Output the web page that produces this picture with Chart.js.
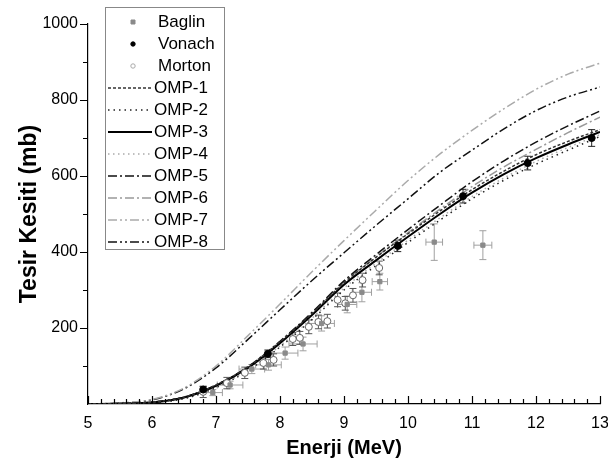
<!DOCTYPE html>
<html>
<head>
<meta charset="utf-8">
<script src="https://cdn.jsdelivr.net/npm/chart.js@4.4.1/dist/chart.umd.min.js"></script>
<style>
  body { margin: 0; background: #fff; }
  #wrap { width: 608px; height: 468px; }
</style>
</head>
<body>
<div id="wrap"><canvas id="grafik"></canvas></div>
<script>
// model grid (MeV) and OMP curves (mb)
var enerji = [5, 5.5, 6, 6.5, 7, 7.5, 8, 8.5, 9, 9.5, 10, 10.5, 11, 11.5, 12, 12.5, 13];
var omp1 = [0, 1, 5, 18, 50, 98, 164, 238, 319, 386, 448, 508, 564, 613, 656, 691, 722];
var omp2 = [0, 1, 3, 14, 43, 88, 150, 222, 300, 364, 425, 484, 540, 589, 631, 668, 704];
var omp3 = [0, 1, 4, 17, 48, 95, 160, 234, 314, 378, 440, 500, 556, 605, 647, 683, 716];
var omp4 = [0, 1, 4, 15, 45, 90, 153, 226, 305, 370, 431, 490, 546, 595, 638, 675, 709];
var omp5 = [0, 1, 5, 18, 50, 98, 165, 241, 324, 393, 459, 523, 585, 640, 689, 732, 771];
var omp6 = [0, 1, 5, 18, 49, 97, 163, 238, 320, 387, 451, 513, 572, 624, 670, 714, 755];
var omp7 = [0, 3, 12, 42, 100, 180, 263, 348, 430, 510, 588, 658, 720, 777, 828, 868, 897];
var omp8 = [0, 2, 11, 40, 95, 170, 248, 325, 398, 470, 540, 610, 668, 724, 772, 808, 834];

// deneysel veriler
var baglinE = [6.95, 7.22, 7.56, 7.82, 8.08, 8.36, 8.65, 9.05, 9.28, 9.56, 10.41, 11.17];
var baglinY = [30, 50, 92, 103, 134, 158, 212, 262, 294, 322, 426, 418];
var baglinEx = [0.15, 0.2, 0.2, 0.2, 0.2, 0.22, 0.2, 0.15, 0.15, 0.12, 0.13, 0.14];
var baglinEy = [8, 10, 12, 14, 16, 18, 20, 22, 25, 22, 48, 38];

var vonachE = [6.8, 7.81, 9.84, 10.86, 11.87, 12.87];
var vonachY = [38, 132, 416, 547, 634, 700];
var vonachEy = [8, 10, 15, 18, 18, 22];

var mortonE = [6.8, 7.17, 7.45, 7.74, 7.9, 8.2, 8.31, 8.45, 8.6, 8.74, 8.9, 9.02, 9.14, 9.29, 9.55];
var mortonY = [32, 55, 82, 108, 116, 171, 174, 203, 216, 218, 274, 265, 286, 326, 358];
var mortonEy = [15, 15, 15, 16, 16, 17, 17, 18, 18, 18, 18, 18, 18, 18, 18];

var xTicks = [5, 6, 7, 8, 9, 10, 11, 12, 13];
var yTicks = [200, 400, 600, 800, 1000];

Chart.defaults.font.family = '"Liberation Sans", Arial, sans-serif';

function noktalar(xs, ys) {
  return xs.map(function (x, i) { return { x: x, y: ys[i] }; });
}

function egri(label, ys, color, dash, w) {
  return {
    label: label, data: noktalar(enerji, ys), showLine: true, borderColor: color,
    borderDash: dash, borderWidth: w || 1.5, pointRadius: 0, fill: false,
    cubicInterpolationMode: 'monotone'
  };
}

var datasets = [
  { label: 'Baglin', data: noktalar(baglinE, baglinY), pointStyle: 'rect', pointRadius: 3,
    backgroundColor: '#8a8a8a', borderColor: '#8a8a8a', showLine: false,
    hataX: baglinEx, hataY: baglinEy, hataRenk: '#a0a0a0' },
  { label: 'Vonach', data: noktalar(vonachE, vonachY), pointStyle: 'circle', pointRadius: 3.5,
    backgroundColor: '#000', borderColor: '#000', showLine: false,
    hataY: vonachEy, hataRenk: '#222' },
  { label: 'Morton', data: noktalar(mortonE, mortonY), pointStyle: 'circle', pointRadius: 3.5,
    backgroundColor: '#fff', borderColor: '#666', borderWidth: 1, showLine: false,
    hataY: mortonEy, hataRenk: '#555' },
  egri('OMP-1', omp1, '#333', [3, 2]),
  egri('OMP-2', omp2, '#222', [1.5, 4]),
  egri('OMP-3', omp3, '#000', [], 2),
  egri('OMP-4', omp4, '#aaa', [1.5, 3.5]),
  egri('OMP-5', omp5, '#111', [9, 3, 2, 3]),
  egri('OMP-6', omp6, '#999', [9, 3, 2, 3]),
  egri('OMP-7', omp7, '#aaa', [9, 3, 2, 3, 2, 3]),
  egri('OMP-8', omp8, '#111', [9, 3, 2, 3, 2, 3])
];

// hata cubuklari
var hataPlugin = {
  id: 'hata',
  beforeDatasetsDraw: function (chart) {
    var ctx = chart.ctx, sx = chart.scales.x, sy = chart.scales.y;
    ctx.save();
    chart.data.datasets.forEach(function (ds) {
      if (!ds.hataY) return;
      ctx.strokeStyle = ds.hataRenk;
      ctx.lineWidth = 1;
      ds.data.forEach(function (p, i) {
        var px = sx.getPixelForValue(p.x), py = sy.getPixelForValue(p.y);
        var y1 = sy.getPixelForValue(p.y - ds.hataY[i]), y2 = sy.getPixelForValue(p.y + ds.hataY[i]);
        ctx.beginPath();
        ctx.moveTo(px, y1); ctx.lineTo(px, y2);
        ctx.moveTo(px - 3.5, y1); ctx.lineTo(px + 3.5, y1);
        ctx.moveTo(px - 3.5, y2); ctx.lineTo(px + 3.5, y2);
        if (ds.hataX) {
          var x1 = sx.getPixelForValue(p.x - ds.hataX[i]), x2 = sx.getPixelForValue(p.x + ds.hataX[i]);
          ctx.moveTo(x1, py); ctx.lineTo(x2, py);
          ctx.moveTo(x1, py - 3.5); ctx.lineTo(x1, py + 3.5);
          ctx.moveTo(x2, py - 3.5); ctx.lineTo(x2, py + 3.5);
        }
        ctx.stroke();
      });
    });
    ctx.restore();
  }
};

// eksen cizgileri (ana ve ara) + lejant
var eksenPlugin = {
  id: 'eksen',
  afterDraw: function (chart) {
    var ctx = chart.ctx, sx = chart.scales.x, sy = chart.scales.y, a = chart.chartArea;
    ctx.save();
    ctx.strokeStyle = '#000';
    ctx.lineWidth = 1.2;
    ctx.beginPath();
    for (var v = 5; v <= 13.001; v += 0.2) {
      var px = Math.round(sx.getPixelForValue(v)) + 0.5;
      var major = Math.abs(v - Math.round(v)) < 0.01;
      ctx.moveTo(px, a.bottom); ctx.lineTo(px, a.bottom - (major ? 8 : 5));
    }
    for (var w = 100; w <= 1000; w += 100) {
      var py = Math.round(sy.getPixelForValue(w)) + 0.5;
      ctx.moveTo(a.left, py); ctx.lineTo(a.left - (w % 200 === 0 ? 8 : 5), py);
    }
    ctx.stroke();

    var bx = 105, by = 7, bw = 119, bh = 242, step = 22;
    ctx.strokeStyle = '#888';
    ctx.lineWidth = 1;
    ctx.fillStyle = '#fff';
    ctx.fillRect(bx, by, bw, bh);
    ctx.strokeRect(bx + 0.5, by + 0.5, bw, bh);
    ctx.font = '17px "Liberation Sans", Arial, sans-serif';
    ctx.textBaseline = 'middle';
    chart.data.datasets.forEach(function (ds, i) {
      var y = by + 15 + i * step;
      if (ds.showLine) {
        ctx.strokeStyle = ds.borderColor;
        ctx.lineWidth = ds.borderWidth;
        ctx.setLineDash(ds.borderDash);
        ctx.beginPath(); ctx.moveTo(bx + 3, y); ctx.lineTo(bx + 47, y); ctx.stroke();
        ctx.setLineDash([]);
        ctx.fillStyle = '#000';
        ctx.fillText(ds.label, bx + 49, y);
      } else {
        ctx.fillStyle = ds.label === 'Morton' ? '#fff' : ds.backgroundColor;
        ctx.strokeStyle = ds.label === 'Morton' ? '#aaa' : ds.borderColor;
        ctx.lineWidth = 1;
        ctx.beginPath();
        if (ds.pointStyle === 'rect') ctx.rect(bx + 26, y - 2, 4, 4);
        else ctx.arc(bx + 28, y, 2.2, 0, Math.PI * 2);
        ctx.fill(); ctx.stroke();
        ctx.fillStyle = '#000';
        ctx.fillText(ds.label, bx + 53, y);
      }
    });
    ctx.restore();
  }
};

var ctx = document.getElementById('grafik');
var grafik = new Chart(ctx, {
  type: 'scatter',
  data: { datasets: datasets },
  options: {
    responsive: true,
    maintainAspectRatio: false,
    animation: false,
    layout: { padding: { top: 24, right: 8, left: 0, bottom: 0 } },
    plugins: { legend: { display: false }, tooltip: { enabled: false } },
    scales: {
      x: {
        type: 'linear', min: 5, max: 13,
        grid: { display: false, drawTicks: false },
        border: { display: true, color: '#000', width: 1.2 },
        afterBuildTicks: function (s) { s.ticks = xTicks.map(function (v) { return { value: v }; }); },
        ticks: { color: '#000', font: { size: 16 }, padding: 10, maxRotation: 0,
                 callback: function (v) { return String(v); } },
        title: { display: true, text: 'Enerji (MeV)', color: '#000', font: { size: 20, weight: 'bold' }, padding: { top: 4, bottom: 8 } },
        afterFit: function (s) { s.height = 64; s.paddingRight = 0; s.paddingLeft = 0; }
      },
      y: {
        type: 'linear', min: 0, max: 1000,
        grid: { display: false, drawTicks: false },
        border: { display: true, color: '#000', width: 1.2 },
        afterBuildTicks: function (s) { s.ticks = yTicks.map(function (v) { return { value: v }; }); },
        ticks: { color: '#000', font: { size: 16 }, padding: 10,
                 callback: function (v) { return String(v); } },
        title: { display: true, text: 'Tesir Kesiti (mb)', color: '#000', font: { size: 23, weight: 'bold' }, padding: { top: 16, bottom: 0 } },
        afterFit: function (s) { s.width = 88; s.paddingTop = 0; s.paddingBottom = 0; }
      }
    }
  },
  plugins: [hataPlugin, eksenPlugin]
});
</script>
</body>
</html>
